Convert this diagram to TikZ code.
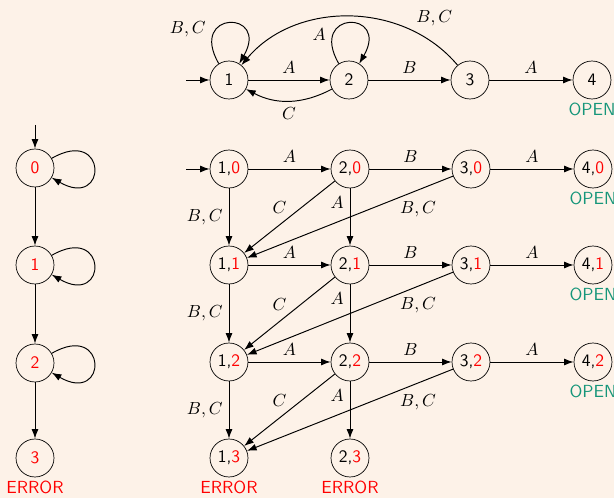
\documentclass[tikz,border=0pt]{standalone}
\usetikzlibrary{arrows.meta,positioning}
\definecolor{bg}{RGB}{253,242,232}
\definecolor{openc}{RGB}{22,150,122}
\begin{document}
\begin{tikzpicture}[x=0.5714pt,y=0.5714pt,
  st/.style={circle,draw,minimum size=21.7pt,inner sep=0pt,font=\sffamily},
  edge/.style={draw,line width=0.55pt,-{Latex[length=5.5pt,width=4pt]}},
  errlbl/.style={red,font=\sffamily,inner sep=2pt},
  openlbl/.style={openc,font=\sffamily,inner sep=2pt}]
\fill[bg] (0,0) rectangle (614,-498);
\useasboundingbox (0,0) rectangle (614,-498);

% top automaton
\node[st] (t1) at (229,-80) {1};
\node[st] (t2) at (349,-80) {2};
\node[st] (t3) at (470,-80) {3};
\node[st] (t4) at (592,-80) {4};
\node[openlbl,below=0pt of t4] (o0) {OPEN};
\coordinate (ts) at (186,-80);
\draw[edge] (ts) -- (t1);
\draw[edge] (t1) -- node[above] {$A$} (t2);
\draw[edge] (t2) -- node[above] {$B$} (t3);
\draw[edge] (t3) -- node[above] {$A$} (t4);
\draw[edge] (t2) to[bend left=28] node[below] {$C$} (t1);
\draw[edge] (t3) to[out=130,in=50,looseness=1.0] node[pos=0.15,above=5pt,xshift=2.5pt] {$B,C$} (t1);
\draw[edge] (t1.122) .. controls +(120:62) and +(60:62) .. node[pos=0.2,left,yshift=5pt] {$B,C$} (t1.58);
\draw[edge] (t2.122) .. controls +(120:62) and +(60:62) .. node[pos=0.2,left,yshift=2pt] {$A$} (t2.58);

% left chain
\node[st] (l0) at (35,-168) {\textcolor{red}{0}};
\node[st] (l1) at (35,-265) {\textcolor{red}{1}};
\node[st] (l2) at (35,-363) {\textcolor{red}{2}};
\node[st] (l3) at (35,-458) {\textcolor{red}{3}};
\node[errlbl,below=0pt of l3] (le) {ERROR};
\coordinate (ls) at (35,-125);
\draw[edge] (ls) -- (l0);
\draw[edge] (l0) -- (l1);
\draw[edge] (l1) -- (l2);
\draw[edge] (l2) -- (l3);
\foreach \n in {l0,l1,l2}{
  \draw[edge] (\n.30) .. controls +(30:65) and +(-30:65) .. (\n.-30);
}

% product automaton
\foreach \r/\y in {0/-169,1/-265,2/-362}{
  \node[st] (g1\r) at (229,\y) {1,\textcolor{red}{\r}};
  \node[st] (g2\r) at (350,\y) {2,\textcolor{red}{\r}};
  \node[st] (g3\r) at (471,\y) {3,\textcolor{red}{\r}};
  \node[st] (g4\r) at (593,\y) {4,\textcolor{red}{\r}};
  \node[openlbl,below=0pt of g4\r] {OPEN};
  \draw[edge] (g1\r) -- node[above] {$A$} (g2\r);
  \draw[edge] (g2\r) -- node[above] {$B$} (g3\r);
  \draw[edge] (g3\r) -- node[above] {$A$} (g4\r);
}
\node[st] (g13) at (229,-458) {1,\textcolor{red}{3}};
\node[st] (g23) at (350,-458) {2,\textcolor{red}{3}};
\node[errlbl,below=0pt of g13] {ERROR};
\node[errlbl,below=0pt of g23] {ERROR};
\coordinate (gs) at (186,-169);
\draw[edge] (gs) -- (g10);
\foreach \r/\s in {0/1,1/2,2/3}{
  \draw[edge] (g1\r) -- node[left] {$B,C$} (g1\s);
  \draw[edge] (g2\r) -- node[pos=0.25,left] {$A$} (g2\s);
  \draw[edge] (g2\r) -- node[pos=0.5,above left,inner sep=1.5pt] {$C$} (g1\s);
  \draw[edge] (g3\r) -- node[pos=0.17,below=3pt] {$B,C$} (g1\s);
}
\end{tikzpicture}
\end{document}
